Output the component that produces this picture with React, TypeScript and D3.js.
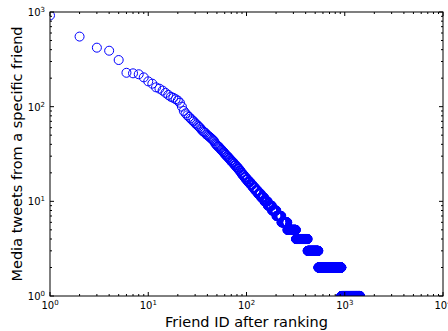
import { useEffect, useRef } from 'react'
import * as d3 from 'd3'

// tweet counts for the top-ranked friends (rank 1..98)
const topCounts = [
  920, 550, 420, 390, 311, 228, 225, 220, 204, 185,
  175, 160, 155, 148, 140, 133, 127, 124, 120, 116,
  110, 100, 90, 85, 81, 78, 75, 72, 70, 67,
  65, 63, 61, 59, 57, 55, 54, 53, 51, 50,
  49, 48, 47, 46, 45, 44, 43, 41, 40, 39,
  38, 38, 37, 36, 35, 35, 34, 33, 33, 32,
  31, 31, 30, 30, 29, 29, 28, 28, 27, 27,
  26, 26, 26, 25, 25, 24, 24, 24, 23, 23,
  23, 22, 22, 22, 21, 21, 21, 20, 20, 20,
  19, 19, 19, 19, 18, 18, 18, 18,
]
// for the long tail: tweet count and how many friends share it
const tailValues = [17, 16, 15, 14, 13, 12, 11, 10, 9, 8, 7, 6, 5, 4, 3, 2, 1]
const tailFriends = [5, 6, 6, 7, 8, 10, 11, 13, 17, 20, 25, 34, 58, 100, 120, 385, 505]

const xTickExps = [0, 1, 2, 3, 4]
const yTickExps = [0, 1, 2, 3]

export default function App() {
  const ref = useRef<SVGSVGElement | null>(null)
  useEffect(() => {
    if (!ref.current) return
    const svg = d3.select(ref.current)
    svg.selectAll('*').remove()
    const width = 448
    const height = 331
    const margin = { top: 12, right: 5, bottom: 35, left: 50 }
    const font = 'DejaVu Sans, sans-serif'

    const counts: number[] = [...topCounts]
    tailValues.forEach((v, i) => {
      for (let k = 0; k < tailFriends[i]; k++) counts.push(v)
    })
    const data = counts.map((c, i) => ({ rank: i + 1, count: c }))

    const x = d3
      .scaleLog()
      .domain([1, 1e4])
      .range([margin.left, width - margin.right])
    const y = d3
      .scaleLog()
      .domain([1, 1e3])
      .range([height - margin.bottom, margin.top])

    const x0 = margin.left
    const x1 = width - margin.right
    const y0 = height - margin.bottom
    const y1 = margin.top

    const plot = svg.append('g')
    plot
      .append('defs')
      .append('clipPath')
      .attr('id', 'clip')
      .append('rect')
      .attr('x', x0)
      .attr('y', y1)
      .attr('width', x1 - x0)
      .attr('height', y0 - y1)

    plot
      .append('g')
      .attr('clip-path', 'url(#clip)')
      .selectAll('circle')
      .data(data)
      .enter()
      .append('circle')
      .attr('cx', (d) => x(d.rank))
      .attr('cy', (d) => y(d.count))
      .attr('r', 4.5)
      .attr('fill', 'none')
      .attr('stroke', '#0000ff')
      .attr('stroke-width', 1)

    // ticks, inside on all four sides
    const ticks = svg.append('g').attr('stroke', '#000').attr('stroke-width', 1)
    const xMinor: number[] = []
    for (let e = 0; e < 4; e++) for (let m = 2; m < 10; m++) xMinor.push(m * 10 ** e)
    const yMinor: number[] = []
    for (let e = 0; e < 3; e++) for (let m = 2; m < 10; m++) yMinor.push(m * 10 ** e)

    xTickExps.forEach((e) => {
      const px = x(10 ** e)
      ticks.append('line').attr('x1', px).attr('x2', px).attr('y1', y0).attr('y2', y0 - 4)
      ticks.append('line').attr('x1', px).attr('x2', px).attr('y1', y1).attr('y2', y1 + 4)
    })
    xMinor.forEach((v) => {
      const px = x(v)
      ticks.append('line').attr('x1', px).attr('x2', px).attr('y1', y0).attr('y2', y0 - 2)
      ticks.append('line').attr('x1', px).attr('x2', px).attr('y1', y1).attr('y2', y1 + 2)
    })
    yTickExps.forEach((e) => {
      const py = y(10 ** e)
      ticks.append('line').attr('x1', x0).attr('x2', x0 + 4).attr('y1', py).attr('y2', py)
      ticks.append('line').attr('x1', x1).attr('x2', x1 - 4).attr('y1', py).attr('y2', py)
    })
    yMinor.forEach((v) => {
      const py = y(v)
      ticks.append('line').attr('x1', x0).attr('x2', x0 + 2).attr('y1', py).attr('y2', py)
      ticks.append('line').attr('x1', x1).attr('x2', x1 - 2).attr('y1', py).attr('y2', py)
    })

    svg
      .append('rect')
      .attr('x', x0)
      .attr('y', y1)
      .attr('width', x1 - x0)
      .attr('height', y0 - y1)
      .attr('fill', 'none')
      .attr('stroke', '#000')
      .attr('stroke-width', 1)

    // tick labels
    xTickExps.forEach((e) => {
      const t = svg
        .append('text')
        .attr('x', x(10 ** e))
        .attr('y', y0 + 13)
        .attr('text-anchor', 'middle')
        .attr('font-family', font)
        .attr('font-size', 10)
      t.append('tspan').text('10')
      t.append('tspan').attr('dy', -4).attr('font-size', 7).text(String(e))
    })
    yTickExps.forEach((e) => {
      const t = svg
        .append('text')
        .attr('x', x0 - 5)
        .attr('y', y(10 ** e) + 4)
        .attr('text-anchor', 'end')
        .attr('font-family', font)
        .attr('font-size', 10)
      t.append('tspan').text('10')
      t.append('tspan').attr('dy', -4).attr('font-size', 7).text(String(e))
    })

    svg
      .append('text')
      .attr('x', (x0 + x1) / 2)
      .attr('y', height - 4)
      .attr('text-anchor', 'middle')
      .attr('font-family', font)
      .attr('font-size', 14.5)
      .text('Friend ID after ranking')
    svg
      .append('text')
      .attr('transform', `translate(22,${(y0 + y1) / 2}) rotate(-90)`)
      .attr('text-anchor', 'middle')
      .attr('font-family', font)
      .attr('font-size', 14.5)
      .text('Media tweets from a specific friend')
  }, [])
  return (
    <svg
      ref={ref}
      width={448}
      height={331}
      style={{ position: 'absolute', left: 0, top: 0, background: '#fff' }}
    />
  )
}
